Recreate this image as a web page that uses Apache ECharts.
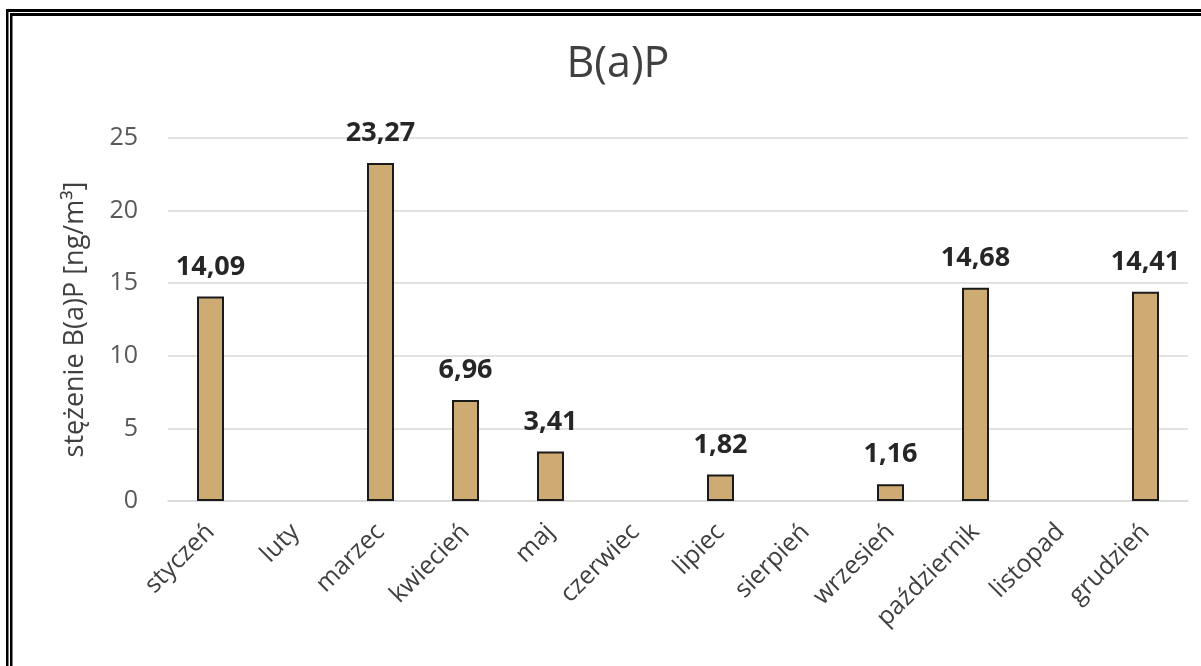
<!DOCTYPE html>
<html>
<head>
<meta charset="utf-8">
<script src="https://cdn.jsdelivr.net/npm/echarts@6/dist/echarts.min.js"></script>
<style>
  html, body { margin: 0; padding: 0; background: #fff; }
  #chart { width: 1201px; height: 666px; }
</style>
</head>
<body>
<div id="chart"></div>
<script>
// Monthly B(a)P concentrations (ng/m3); months without a measurement are null
const months = ['styczeń', 'luty', 'marzec', 'kwiecień', 'maj', 'czerwiec',
                'lipiec', 'sierpień', 'wrzesień', 'październik', 'listopad', 'grudzień'];
const bapValues = [14.09, null, 23.27, 6.96, 3.41, null, 1.82, null, 1.16, 14.68, null, 14.41];
const yTicks = [0, 5, 10, 15, 20, 25];

const FONT = '"Open Sans", "Noto Sans", sans-serif';
const chart = echarts.init(document.getElementById('chart'), null, { renderer: 'canvas' });

chart.setOption({
  backgroundColor: '#ffffff',
  animation: false,
  title: {
    text: 'B(a)P',
    left: 613,
    textAlign: 'center',
    top: 38,
    textStyle: { fontFamily: FONT, fontSize: 43, fontWeight: 'normal', color: '#404040' }
  },
  grid: { left: 168, right: 13, top: 138, bottom: 165 },
  xAxis: {
    type: 'category',
    data: months,
    axisLine: { lineStyle: { color: '#d9d9d9', width: 1.5 } },
    axisTick: { show: false },
    axisLabel: {
      rotate: 45,
      margin: 27,
      interval: 0,
      fontFamily: FONT,
      fontSize: 25,
      color: '#404040'
    }
  },
  yAxis: {
    type: 'value',
    min: yTicks[0],
    max: yTicks[yTicks.length - 1],
    interval: yTicks[1] - yTicks[0],
    name: 'stężenie B(a)P [ng/m³]',
    nameLocation: 'middle',
    nameGap: 79,
    nameTextStyle: { fontFamily: FONT, fontSize: 27, color: '#404040' },
    axisLine: { show: false },
    axisTick: { show: false },
    splitLine: { lineStyle: { color: '#d9d9d9', width: 1.5 } },
    axisLabel: { fontFamily: FONT, fontSize: 25, color: '#595959', margin: 30 }
  },
  series: [{
    type: 'bar',
    data: bapValues,
    barWidth: 27,
    itemStyle: { color: '#cdab72', borderColor: '#1a1a1a', borderWidth: 2 },
    label: {
      show: true,
      position: 'top',
      distance: 16,
      fontFamily: FONT,
      fontSize: 27,
      fontWeight: 'bold',
      color: '#262626',
      formatter: p => p.value == null ? '' : p.value.toFixed(2).replace('.', ',')
    }
  }],
  // double frame line along the left and top edges
  graphic: [
    { type: 'rect', shape: { x: 6, y: 9, width: 2.5, height: 700 }, style: { fill: '#000' } },
    { type: 'rect', shape: { x: 10, y: 13, width: 2.5, height: 700 }, style: { fill: '#000' } },
    { type: 'rect', shape: { x: 6, y: 9, width: 1300, height: 3 }, style: { fill: '#000' } },
    { type: 'rect', shape: { x: 10, y: 13, width: 1300, height: 3 }, style: { fill: '#000' } }
  ]
});
</script>
</body>
</html>
